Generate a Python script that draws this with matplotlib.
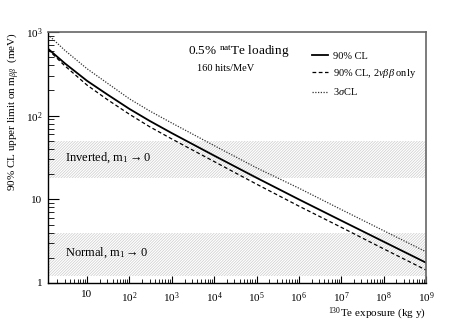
import matplotlib.pyplot as plt
from matplotlib.ticker import FixedLocator, NullFormatter

plt.rcParams['font.family'] = ['Liberation Serif', 'DejaVu Serif']
plt.rcParams['mathtext.fontset'] = 'custom'
plt.rcParams['mathtext.rm'] = 'Liberation Serif'
plt.rcParams['mathtext.it'] = 'Liberation Serif:italic'
plt.rcParams['hatch.linewidth'] = 0.5

# exposure in kg y of 130Te
exposure = [1.2, 3, 10, 30, 100, 300, 1e3, 1e4, 1e5, 1e6, 1e7, 1e8, 1e9]
# 90% CL limit on m_bb (meV)
cl90 = [631, 422, 261, 179.5, 120.5, 86.7, 61.9, 33.3, 18.1, 9.98, 5.57, 3.12, 1.75]
# 90% CL, only 2vbb background
cl90_2nu = [617, 394, 232, 156, 104, 73.8, 52.7, 28.3, 15.2, 8.30, 4.63, 2.56, 1.43]
# 3 sigma
cl3s = [933, 603, 364, 245, 159, 114, 81.7, 43.9, 23.8, 13.6, 7.55, 4.22, 2.36]

inverted = (18, 50)
normal = (1.2, 4)

fig = plt.figure(figsize=(4.73, 3.22), dpi=100)
ax = fig.add_axes([48/473, 39/322, 378/473, 251/322])
ax.set_xscale('log')
ax.set_yscale('log')
ax.set_xlim(1.2, 1e9)
ax.set_ylim(1, 1000)

# hierarchy bands
ax.fill_between([1.2, 1e9], inverted[0], inverted[1], facecolor='none',
                edgecolor='#cccccc', hatch='////////////', linewidth=0)
ax.fill_between([1.2, 1e9], normal[0], normal[1], facecolor='none',
                edgecolor='#cccccc', hatch='////////////', linewidth=0)

ax.plot(exposure, cl90, color='black', lw=1.3, label='90% CL')
ax.plot(exposure, cl90_2nu, color='black', lw=0.9, ls=(0, (3, 2)),
        label=r'90% CL, 2$\nu\beta\beta$ only')
ax.plot(exposure, cl3s, color='#333333', lw=0.9, ls=(0, (1, 1.2)),
        label=r'3$\sigma$CL')

ax.text(0.045, 0.50, r'Inverted, m$_{1}$$\rightarrow$0', transform=ax.transAxes,
        fontsize=9, va='center')
ax.text(0.045, 0.12, r'Normal, m$_{1}$$\rightarrow$0', transform=ax.transAxes,
        fontsize=9, va='center')
ax.text(0.37, 0.92, r'0.5% $^{\mathrm{nat}}$Te loading', transform=ax.transAxes,
        fontsize=9.5, va='center')
ax.text(0.395, 0.855, '160 hits/MeV', transform=ax.transAxes,
        fontsize=7.5, va='center')

ax.legend(loc='upper right', bbox_to_anchor=(1.0, 0.96), frameon=False,
          fontsize=7.5, handlelength=1.6, handletextpad=0.5, labelspacing=0.6)

xt = [10, 1e2, 1e3, 1e4, 1e5, 1e6, 1e7, 1e8, 1e9]
xl = ['10'] + [r'10$^{%d}$' % i for i in range(2, 10)]
ax.set_xticks(xt)
ax.set_xticklabels(xl)
ax.xaxis.set_minor_locator(FixedLocator(
    [m * 10**e for e in range(0, 9) for m in range(2, 10) if m * 10**e > 1.2]))
ax.xaxis.set_minor_formatter(NullFormatter())
ax.set_yticks([1, 10, 100, 1000])
ax.set_yticklabels(['1', '10', r'10$^{2}$', r'10$^{3}$'])
ax.yaxis.set_minor_locator(FixedLocator(
    [m * 10**e for e in range(0, 3) for m in range(2, 10)]))
ax.yaxis.set_minor_formatter(NullFormatter())

ax.tick_params(which='both', direction='in', top=False, right=False, labelsize=8)
ax.tick_params(axis='x', which='major', length=5, pad=5)
ax.tick_params(axis='x', which='minor', length=3)
ax.tick_params(axis='y', which='major', length=8, pad=4)
ax.tick_params(axis='y', which='minor', length=4.5)

for s in ['top', 'right']:
    ax.spines[s].set_color('#666666')
    ax.spines[s].set_linewidth(1.2)
ax.spines['left'].set_linewidth(1.0)
ax.spines['bottom'].set_linewidth(1.0)

ax.set_xlabel(r'$^{130}$Te exposure (kg y)', fontsize=8, ha='right', x=1.0)
ax.xaxis.set_label_coords(1.0, -0.09)
ax.set_ylabel(r'90% CL upper limit on m$_{\beta\beta}$  (meV)', fontsize=8,
              ha='right', y=1.0)
ax.yaxis.set_label_coords(-0.072, 1.0)

fig.savefig('out.png', dpi=100)
